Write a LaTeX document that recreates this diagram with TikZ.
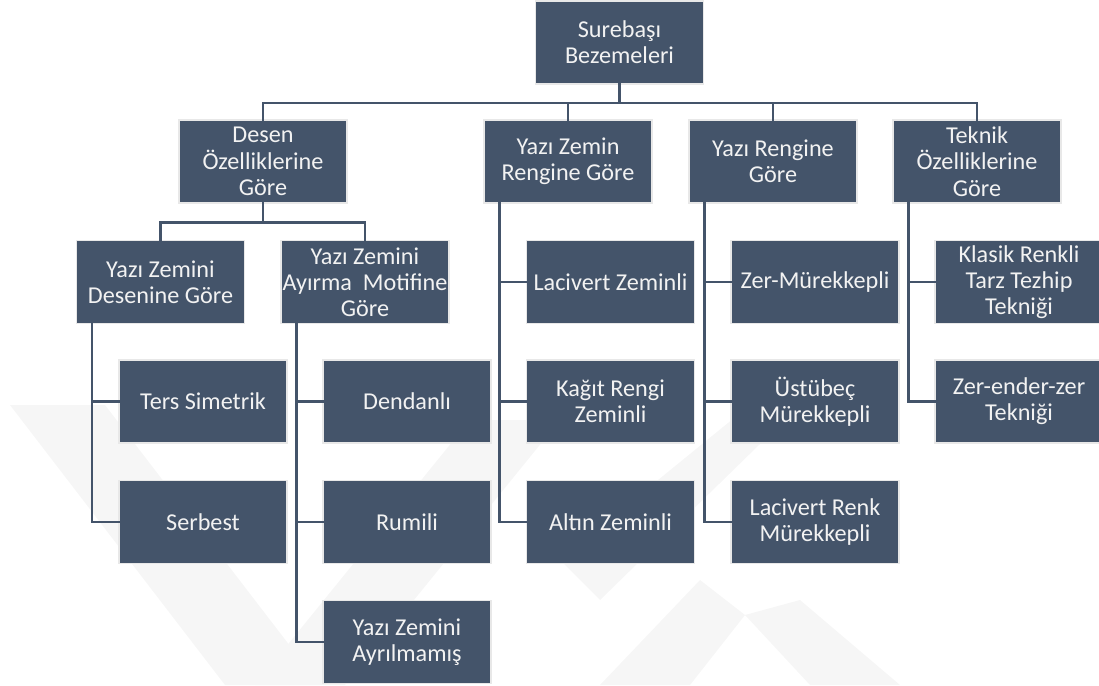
\documentclass[tikz,border=0pt]{standalone}
\usepackage{fontspec}
\setmainfont{Carlito}
\usetikzlibrary{positioning}
\definecolor{boxfill}{HTML}{44546A}
\definecolor{boxline}{HTML}{E8E8E8}
\definecolor{txt}{HTML}{F2F2F2}
\definecolor{wm}{HTML}{F6F6F6}
\tikzset{
  x=1pt, y=-1pt,
  box/.style={rectangle, fill=boxfill, draw=boxline, line width=1.3pt,
    minimum width=168pt, minimum height=83pt, inner sep=0pt, align=center,
    text=txt, font=\fontsize{24.2}{26.2}\selectfont},
  link/.style={draw=boxfill, line width=2.5pt, line cap=rect},
  mark band/.style={fill=wm, draw=none}
}
\begin{document}
\begin{tikzpicture}
\useasboundingbox (0,0) rectangle (1099,685);
\clip (0,0) rectangle (1099,685);
% faint watermark
\fill[mark band] (10,405) -- (105,405) -- (320,685) -- (225,685) -- cycle;
\fill[mark band] (255,685) -- (345,685) -- (560,420) -- (470,420) -- cycle;
\fill[mark band] (600,685) -- (690,685) -- (745,615) -- (700,580) -- cycle;
\fill[mark band] (745,615) -- (800,600) -- (900,685) -- (810,685) -- cycle;
\fill[mark band] (560,560) -- (600,600) -- (800,405) -- (750,405) -- cycle;
% nodes
\node[box] (root) at (619.5,42.5) {Surebaşı\\Bezemeleri};
\node[box] (desen) at (263,161.5) {Desen\\Özelliklerine\\Göre};
\node[box] (yzr) at (568,161.5) {Yazı Zemin\\Rengine Göre};
\node[box] (yr) at (773,161.5) {Yazı Rengine\\Göre};
\node[box] (tek) at (977,161.5) {Teknik\\Özelliklerine\\Göre};
\node[box] (yzdg) at (160.5,282) {Yazı Zemini\\Desenine Göre};
\node[box] (yzam) at (365,282) {Yazı Zemini\\Ayırma~ Motifine\\Göre};
\node[box] (ters) at (203,401.5) {Ters Simetrik};
\node[box] (serb) at (203,522) {Serbest};
\node[box] (dend) at (407,401.5) {Dendanlı};
\node[box] (rumi) at (407,522) {Rumili};
\node[box] (ayri) at (407,642) {Yazı Zemini\\Ayrılmamış};
\node[box] (lacz) at (610.5,282) {Lacivert Zeminli};
\node[box] (kagt) at (610.5,401.5) {Kağıt Rengi\\Zeminli};
\node[box] (altn) at (610.5,522) {Altın Zeminli};
\node[box] (zerm) at (815,282) {Zer-Mürekkepli};
\node[box] (ustu) at (815,401.5) {Üstübeç\\Mürekkepli};
\node[box] (lacr) at (815,522) {Lacivert Renk\\Mürekkepli};
\node[box] (klas) at (1019,282) {Klasik Renkli\\Tarz Tezhip\\Tekniği};
\node[box] (zez) at (1019,401.5) {Zer-ender-zer\\Tekniği};
% connectors: root to level 1
\coordinate (bus1) at ([yshift=-18.5pt]root.south);
\draw[link] (root.south) -- (bus1);
\draw[link] (desen.north) |- (bus1);
\draw[link] (tek.north) |- (bus1);
\draw[link] (yzr.north) -- (yzr.north |- bus1);
\draw[link] (yr.north) -- (yr.north |- bus1);
% desen to level 2
\coordinate (bus2) at ([yshift=-19pt]desen.south);
\draw[link] (desen.south) -- (bus2);
\draw[link] (yzdg.north) |- (bus2);
\draw[link] (yzam.north) |- (bus2);
% side spines
\draw[link] ([xshift=16pt]yzdg.south west) |- (ters.west);
\draw[link] ([xshift=16pt]yzdg.south west) |- (serb.west);
\draw[link] ([xshift=16pt]yzam.south west) |- (dend.west);
\draw[link] ([xshift=16pt]yzam.south west) |- (rumi.west);
\draw[link] ([xshift=16pt]yzam.south west) |- (ayri.west);
\draw[link] ([xshift=16pt]yzr.south west) |- (lacz.west);
\draw[link] ([xshift=16pt]yzr.south west) |- (kagt.west);
\draw[link] ([xshift=16pt]yzr.south west) |- (altn.west);
\draw[link] ([xshift=16pt]yr.south west) |- (zerm.west);
\draw[link] ([xshift=16pt]yr.south west) |- (ustu.west);
\draw[link] ([xshift=16pt]yr.south west) |- (lacr.west);
\draw[link] ([xshift=16pt]tek.south west) |- (klas.west);
\draw[link] ([xshift=16pt]tek.south west) |- (zez.west);
\end{tikzpicture}
\end{document}
